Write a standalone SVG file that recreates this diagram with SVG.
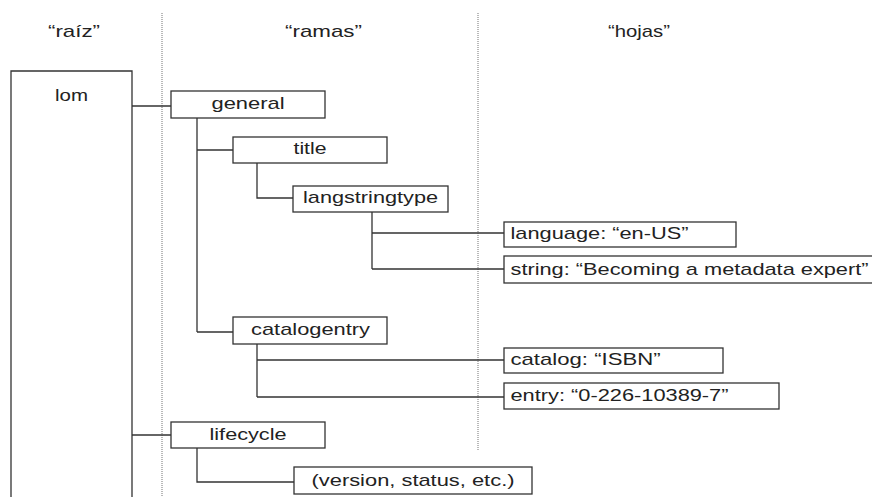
<svg xmlns="http://www.w3.org/2000/svg" width="872" height="497" viewBox="0 0 872 497">
  <style>
    .box { fill: #ffffff; stroke: #333333; stroke-width: 1.3; }
    .wire { fill: none; stroke: #333333; stroke-width: 1.3; }
    .divider { fill: none; stroke: #a8a8a8; stroke-width: 1.6; stroke-dasharray: 1 1; }
    text { font-family: "Liberation Sans", Arial, sans-serif; font-size: 17px; fill: #222222; }
    .c { text-anchor: middle; }
  </style>
  <rect width="872" height="497" fill="#ffffff"/>

  <!-- column dividers -->
  <g id="dividers">
    <line class="divider" x1="162" y1="13" x2="162" y2="497"/>
    <line class="divider" x1="478" y1="13" x2="478" y2="451"/>
  </g>

  <!-- column headings -->
  <g id="headings">
    <text class="c" x="74" y="37" textLength="52" lengthAdjust="spacingAndGlyphs">“raíz”</text>
    <text class="c" x="323.5" y="37" textLength="77" lengthAdjust="spacingAndGlyphs">“ramas”</text>
    <text class="c" x="639" y="37" textLength="62" lengthAdjust="spacingAndGlyphs">“hojas”</text>
  </g>

  <!-- tree connectors -->
  <g id="connectors">
    <path class="wire" d="M132 106 H171"/>
    <path class="wire" d="M197 118 V332 M197 150 H233 M197 332 H233"/>
    <path class="wire" d="M257 163 V198 H293"/>
    <path class="wire" d="M372 212 V269 M372 233 H504 M372 269 H504"/>
    <path class="wire" d="M257 344 V397 M257 360 H504 M257 397 H504"/>
    <path class="wire" d="M132 435 H171"/>
    <path class="wire" d="M197 448 V482 H294"/>
  </g>

  <g id="lom">
    <path class="box" d="M11 500 V71 H132 V500"/>
    <text class="c" x="71.5" y="101" textLength="33" lengthAdjust="spacingAndGlyphs">lom</text>
  </g>

  <g id="general">
    <rect class="box" x="171" y="91" width="154" height="27"/>
    <text class="c" x="248" y="109" textLength="73" lengthAdjust="spacingAndGlyphs">general</text>
  </g>

  <g id="title">
    <rect class="box" x="233" y="137" width="154" height="26"/>
    <text class="c" x="310" y="154" textLength="33" lengthAdjust="spacingAndGlyphs">title</text>
  </g>

  <g id="langstringtype">
    <rect class="box" x="293" y="186" width="155" height="26"/>
    <text class="c" x="370.5" y="203" textLength="135" lengthAdjust="spacingAndGlyphs">langstringtype</text>
  </g>

  <g id="language">
    <rect class="box" x="504" y="222" width="232" height="25"/>
    <text x="510.5" y="239" textLength="178" lengthAdjust="spacingAndGlyphs">language: “en-US”</text>
  </g>

  <g id="string">
    <rect class="box" x="504" y="256" width="372" height="27"/>
    <text x="510.5" y="275" textLength="358" lengthAdjust="spacingAndGlyphs">string: “Becoming a metadata expert”</text>
  </g>

  <g id="catalogentry">
    <rect class="box" x="233" y="317" width="154" height="27"/>
    <text class="c" x="310.5" y="335" textLength="119" lengthAdjust="spacingAndGlyphs">catalogentry</text>
  </g>

  <g id="catalog">
    <rect class="box" x="504" y="348" width="219" height="25"/>
    <text x="510.5" y="365" textLength="150" lengthAdjust="spacingAndGlyphs">catalog: “ISBN”</text>
  </g>

  <g id="entry">
    <rect class="box" x="504" y="383" width="275" height="26"/>
    <text x="510.5" y="401" textLength="218" lengthAdjust="spacingAndGlyphs">entry: “0-226-10389-7”</text>
  </g>

  <g id="lifecycle">
    <rect class="box" x="171" y="422" width="154" height="26"/>
    <text class="c" x="248" y="440" textLength="77" lengthAdjust="spacingAndGlyphs">lifecycle</text>
  </g>

  <g id="lifecycle-fields">
    <rect class="box" x="294" y="467" width="238" height="27"/>
    <text class="c" x="413" y="486" textLength="203" lengthAdjust="spacingAndGlyphs">(version, status, etc.)</text>
  </g>
</svg>
